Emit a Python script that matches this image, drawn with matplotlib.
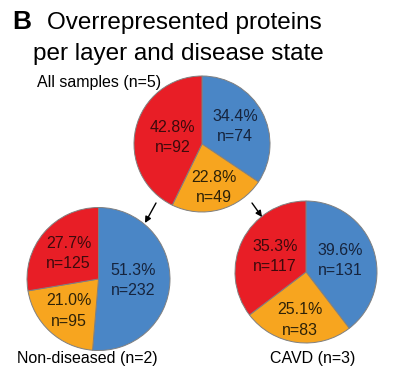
import matplotlib
matplotlib.use("Agg")
import matplotlib.pyplot as plt
import numpy as np

# counts per layer, order: blue, orange, red (clockwise from 12 o'clock)
layer_colors = ["#4a86c6", "#f7a51f", "#e81e26"]
text_colors = ["#16243d", "#2e2208", "#3d0a0c"]

all_counts = [74, 49, 92]
nondiseased_counts = [232, 95, 125]
cavd_counts = [131, 83, 117]

all_title = "All samples (n=5)"
nondiseased_title = "Non-diseased (n=2)"
cavd_title = "CAVD (n=3)"

W, H = 406, 373
plt.rcParams["font.family"] = ["Liberation Sans", "DejaVu Sans"]

fig = plt.figure(figsize=(W / 100, H / 100), dpi=100)
ax = fig.add_axes([0, 0, 1, 1])


def draw_pie(counts, center, radius, label_r):
    wedges, _ = ax.pie(
        counts, colors=layer_colors, startangle=90, counterclock=False,
        center=center, radius=radius, frame=True,
        wedgeprops=dict(edgecolor="#808080", linewidth=0.7),
    )
    total = float(sum(counts))
    for w, n, f, tc in zip(wedges, counts, label_r, text_colors):
        mid = np.deg2rad((w.theta1 + w.theta2) / 2)
        x = center[0] + f * radius * np.cos(mid)
        y = center[1] + f * radius * np.sin(mid)
        ax.text(x, y, f"{100 * n / total:.1f}%\nn={n}", ha="center",
                va="center", fontsize=11.5, color=tc, linespacing=1.45)


draw_pie(all_counts, (202, H - 144), 68, [0.55, 0.66, 0.44])
draw_pie(nondiseased_counts, (98.5, H - 279), 71.5, [0.48, 0.61, 0.55])
draw_pie(cavd_counts, (306, H - 272), 71, [0.51, 0.68, 0.49])

ax.text(99, H - 82, all_title, ha="center", va="center", fontsize=11.5)
ax.text(87, H - 359, nondiseased_title, ha="center", va="center", fontsize=11.5)
ax.text(313, H - 359, cavd_title, ha="center", va="center", fontsize=11.5)

arrow = dict(arrowstyle="-|>", color="black", lw=1.0, mutation_scale=9,
             shrinkA=0, shrinkB=0)
ax.annotate("", xy=(145, H - 223), xytext=(156, H - 203), arrowprops=arrow)
ax.annotate("", xy=(262, H - 217), xytext=(252, H - 203), arrowprops=arrow)

ax.text(12, H - 22, "B", ha="left", va="center", fontsize=19, fontweight="bold")
ax.text(47, H - 23, "Overrepresented proteins", ha="left", va="center", fontsize=17.5)
ax.text(33, H - 54, "per layer and disease state", ha="left", va="center", fontsize=17.5)

ax.set_xlim(0, W)
ax.set_ylim(0, H)
ax.set_aspect("equal")
ax.axis("off")

fig.savefig("out.png", dpi=100)
